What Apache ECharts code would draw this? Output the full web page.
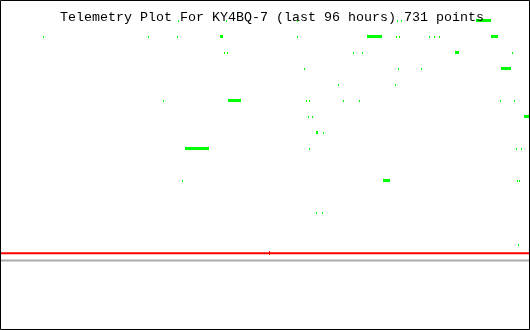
<!DOCTYPE html>
<html>
<head>
<meta charset="utf-8">
<script src="https://cdn.jsdelivr.net/npm/echarts@6/dist/echarts.min.js"></script>
<style>
html,body{margin:0;padding:0;background:#fff;}
#chart{width:530px;height:330px;}
</style>
</head>
<body>
<div id="chart"></div>
<script>
// Title
const titleText = 'Telemetry Plot For KY4BQ-7 (last 96 hours) 731 points';

// Green telemetry readings: [startHour, endHour, level]  (runs of equal readings)
const greenRuns = [
  // level 15
  [32.42, 32.42, 15], [40.94, 40.94, 15], [53.80, 53.80, 15], [72.09, 72.09, 15],
  [72.72, 72.72, 15], [86.22, 88.94, 15],
  // level 14
  [7.84, 7.84, 14], [26.85, 27.10, 14], [32.11, 32.11, 14], [39.85, 40.45, 14],
  [53.85, 53.85, 14], [66.57, 69.28, 14], [71.73, 71.73, 14], [72.45, 72.45, 14],
  [77.76, 77.76, 14], [78.70, 78.70, 14], [79.57, 79.57, 14], [88.94, 90.26, 14],
  // level 13
  [40.63, 40.63, 13], [41.12, 41.12, 13], [63.99, 63.99, 13], [65.70, 65.70, 13],
  [82.42, 83.14, 13], [92.79, 92.79, 13],
  // level 12
  [55.12, 55.12, 12], [72.14, 72.14, 12], [76.31, 76.31, 12], [90.75, 92.56, 12],
  // level 11
  [61.28, 61.28, 11], [71.55, 71.55, 11],
  // level 10
  [29.58, 29.58, 10], [41.35, 43.78, 10], [55.43, 55.43, 10], [56.15, 56.15, 10],
  [62.18, 62.18, 10], [65.08, 65.08, 10], [90.62, 90.62, 10], [93.16, 93.16, 10],
  // level 9
  [55.79, 55.79, 9], [56.57, 56.57, 9], [94.97, 96.00, 9],
  // level 8
  [57.36, 57.65, 8], [58.56, 58.56, 8],
  // level 7
  [33.51, 37.86, 7], [55.97, 55.97, 7], [93.52, 93.52, 7], [94.37, 94.37, 7],
  // level 5
  [33.02, 33.02, 5], [69.43, 70.77, 5], [93.70, 93.70, 5], [94.06, 94.06, 5],
  // level 3
  [57.24, 57.24, 3], [58.38, 58.38, 3],
  // level 1
  [93.88, 93.88, 1]
];

// Red and gray constant channels
const redLevel = 0.45;
const grayLevel = 0;
const redTicks = [[48.87, 48.87, 0.45]];
const hoursRange = [0, 96];

const chart = echarts.init(document.getElementById('chart'), null, {renderer: 'canvas'});

function makeRender(color, forceH) {
  return function (params, api) {
    const s = api.coord([api.value(0), api.value(2)]);
    const e = api.coord([api.value(1), api.value(2)]);
    const run = (e[0] - s[0]) > 1.5;
    const w = Math.max(Math.round(e[0] - s[0]), run ? 2 : 1);
    const h = forceH || (run ? 3 : 2);
    return {
      type: 'rect',
      shape: {x: Math.floor(s[0]), y: Math.round(s[1] - h / 2), width: w, height: h},
      style: {fill: color}
    };
  };
}

chart.setOption({
  animation: false,
  backgroundColor: '#ffffff',
  title: {
    text: titleText,
    left: 60,
    top: 11,
    padding: 0,
    textStyle: {
      fontFamily: 'Liberation Mono',
      fontSize: 13.33,
      fontWeight: 'normal',
      color: '#000000'
    }
  },
  grid: {left: 0, right: 0, top: 0, bottom: 0},
  xAxis: {type: 'value', min: hoursRange[0], max: hoursRange[1], show: false},
  yAxis: {type: 'value', min: -4.34375, max: 16.28125, show: false},
  series: [
    {
      type: 'line',
      data: [[hoursRange[0], grayLevel], [hoursRange[1], grayLevel]],
      symbol: 'none',
      lineStyle: {color: '#aaaaaa', width: 2},
      z: 2
    },
    {
      type: 'line',
      data: [[hoursRange[0], redLevel], [hoursRange[1], redLevel]],
      symbol: 'none',
      lineStyle: {color: '#ff0000', width: 2},
      z: 3
    },
    {
      type: 'custom',
      renderItem: makeRender('#ff0000', 4),
      data: redTicks,
      z: 4
    },
    {
      type: 'custom',
      renderItem: makeRender('#00ff00'),
      data: greenRuns,
      z: 5
    }
  ],
  graphic: [{
    type: 'rect',
    shape: {x: 0.5, y: 0.5, width: 529, height: 329},
    style: {fill: null, stroke: '#000000', lineWidth: 1},
    z: 100
  }]
});
</script>
</body>
</html>
